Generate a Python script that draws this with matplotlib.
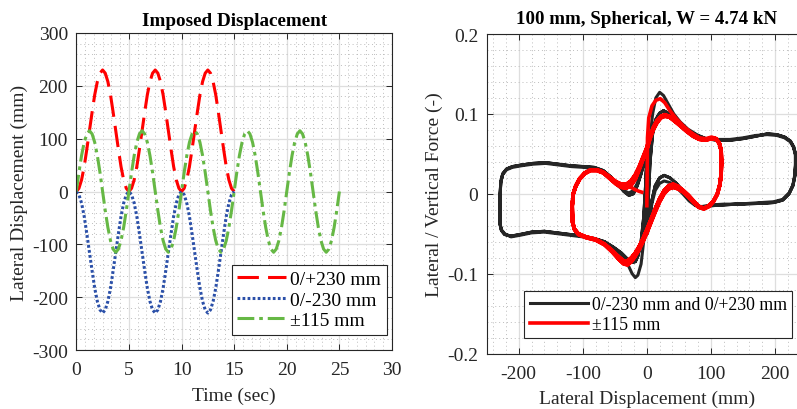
import numpy as np
import matplotlib
matplotlib.use("Agg")
import matplotlib.pyplot as plt
from matplotlib.ticker import MultipleLocator, FuncFormatter

plt.rcParams['font.family'] = ['Liberation Serif', 'DejaVu Serif']
plt.rcParams['axes.unicode_minus'] = False

# ---------------- left panel: imposed displacement histories (0.25 s samples)
dt = 0.25
disp_pos230 = [0, 6, 22, 47, 80, 115, 150, 183, 208, 224, 230, 224, 208, 183, 150, 115, 80, 47, 22, 6,
               0, 6, 22, 47, 80, 115, 150, 183, 208, 224, 230, 224, 208, 183, 150, 115, 80, 47, 22, 6,
               0, 6, 22, 47, 80, 115, 150, 183, 208, 224, 230, 224, 208, 183, 150, 115, 80, 47, 22, 6,
               0]
disp_neg230 = [0, -6, -22, -47, -80, -115, -150, -183, -208, -224, -230, -224, -208, -183, -150, -115, -80, -47, -22, -6,
               0, -6, -22, -47, -80, -115, -150, -183, -208, -224, -230, -224, -208, -183, -150, -115, -80, -47, -22, -6,
               0, -6, -22, -47, -80, -115, -150, -183, -208, -224, -230, -224, -208, -183, -150, -115, -80, -47, -22, -6,
               0]
disp_pm115 = [0, 36, 68, 93, 109, 115, 109, 93, 68, 36, 0, -36, -68, -93, -109, -115, -109, -93, -68, -36,
              0, 36, 68, 93, 109, 115, 109, 93, 68, 36, 0, -36, -68, -93, -109, -115, -109, -93, -68, -36,
              0, 36, 68, 93, 109, 115, 109, 93, 68, 36, 0, -36, -68, -93, -109, -115, -109, -93, -68, -36,
              0, 36, 68, 93, 109, 115, 109, 93, 68, 36, 0, -36, -68, -93, -109, -115, -109, -93, -68, -36,
              0, 36, 68, 93, 109, 115, 109, 93, 68, 36, 0, -36, -68, -93, -109, -115, -109, -93, -68, -36,
              0]

# ---------------- right panel: hysteresis loops (displacement mm, lateral/vertical force)
# 0/+230 test, outgoing branch (first cycle and later cycles)
bp_out_x = [0, 2, 5, 9, 14, 20, 26, 33, 42, 52, 64, 78, 92, 110, 130, 150, 170, 188, 203, 215, 224, 229, 232]
bp_out_y1 = [0.0, 0.03, 0.07, 0.10, 0.12, 0.127, 0.123, 0.113, 0.100, 0.090, 0.081, 0.074, 0.069, 0.068, 0.068,
             0.070, 0.073, 0.074, 0.073, 0.070, 0.065, 0.058, 0.048]
bp_out_y2 = [-0.045, -0.01, 0.04, 0.075, 0.093, 0.101, 0.104, 0.101, 0.094, 0.086, 0.079, 0.073, 0.069, 0.067,
             0.067, 0.069, 0.072, 0.075, 0.074, 0.071, 0.066, 0.059, 0.050]
bp_ret_x = [232, 231, 228, 222, 212, 198, 180, 160, 140, 120, 100, 86, 76, 66, 56, 46, 36, 27, 20, 13, 8, 4, 1]
bp_ret_y1 = [0.035, 0.022, 0.010, 0.0, -0.008, -0.011, -0.012, -0.0125, -0.013, -0.014, -0.015, -0.017, -0.014,
             -0.006, 0.004, 0.013, 0.020, 0.023, 0.020, 0.010, -0.008, -0.030, -0.048]
bp_ret_y2 = [0.037, 0.024, 0.011, 0.001, -0.007, -0.010, -0.011, -0.012, -0.013, -0.013, -0.014, -0.016, -0.015,
             -0.009, 0.000, 0.008, 0.014, 0.016, 0.013, 0.004, -0.012, -0.032, -0.050]

# 0/-230 test
bn_out_x = [0, -2, -5, -9, -14, -18, -23, -30, -40, -52, -66, -82, -100, -120, -140, -160, -180, -198, -212, -222,
            -227, -229, -229]
bn_out_y1 = [0.0, -0.03, -0.06, -0.088, -0.102, -0.105, -0.100, -0.088, -0.076, -0.068, -0.061, -0.057, -0.054,
             -0.052, -0.050, -0.048, -0.049, -0.052, -0.054, -0.050, -0.045, -0.038, -0.030]
bn_out_y2 = [0.05, 0.01, -0.03, -0.06, -0.078, -0.085, -0.086, -0.082, -0.074, -0.067, -0.060, -0.056, -0.053,
             -0.051, -0.049, -0.047, -0.048, -0.051, -0.053, -0.051, -0.046, -0.039, -0.031]
bn_ret_x = [-229, -229, -228, -225, -219, -210, -196, -178, -158, -138, -118, -98, -82, -68, -56, -45, -36, -28,
            -21, -15, -9, -4, -1]
bn_ret_y1 = [-0.02, 0.0, 0.015, 0.025, 0.031, 0.034, 0.036, 0.038, 0.039, 0.037, 0.035, 0.034, 0.033, 0.029,
             0.021, 0.012, 0.003, -0.002, 0.0, 0.010, 0.025, 0.040, 0.050]
bn_ret_y2 = [-0.021, -0.001, 0.014, 0.024, 0.030, 0.033, 0.035, 0.037, 0.038, 0.036, 0.034, 0.033, 0.031, 0.026,
             0.018, 0.010, 0.004, 0.001, 0.004, 0.013, 0.027, 0.042, 0.052]

# +/-115 test
r_first_x = [0, 0.5, 1, 3, 8, 14, 21, 28, 36, 46, 58, 70, 82, 92, 101, 108, 113, 116, 116.5]
r_first_y = [-0.015, 0.03, 0.07, 0.095, 0.11, 0.117, 0.119, 0.114, 0.104, 0.094, 0.084, 0.076, 0.070, 0.069,
             0.071, 0.069, 0.063, 0.054, 0.04]
r_up_x = [0, 5, 10, 16, 22, 28, 35, 43, 52, 62, 72, 82, 92, 101, 108, 113, 116, 116.5]
r_up_yA = [0.058, 0.072, 0.083, 0.092, 0.097, 0.099, 0.097, 0.092, 0.086, 0.080, 0.074, 0.069, 0.068, 0.070,
           0.069, 0.064, 0.055, 0.04]
r_up_yB = [0.055, 0.069, 0.080, 0.089, 0.095, 0.097, 0.096, 0.091, 0.085, 0.078, 0.072, 0.068, 0.067, 0.069,
           0.068, 0.063, 0.054, 0.039]
r_dn_x = [116.5, 116, 114, 110, 104, 97, 89, 81, 73, 65, 57, 49, 41, 34, 27, 20, 13, 6, 0, -6, -12, -18, -24,
          -30, -36, -44, -54, -66, -80, -95, -107, -113, -116]
r_dn_yA = [0.04, 0.025, 0.012, 0.0, -0.009, -0.015, -0.018, -0.016, -0.009, -0.002, 0.004, 0.009, 0.012, 0.010,
           0.004, -0.006, -0.019, -0.033, -0.045, -0.056, -0.066, -0.074, -0.080, -0.084, -0.084, -0.079, -0.071,
           -0.063, -0.057, -0.054, -0.050, -0.044, -0.035]
r_dn_yB = [0.039, 0.024, 0.011, -0.001, -0.010, -0.016, -0.019, -0.017, -0.011, -0.004, 0.002, 0.006, 0.008,
           0.006, 0.000, -0.010, -0.023, -0.037, -0.049, -0.060, -0.070, -0.078, -0.085, -0.089, -0.088, -0.082,
           -0.073, -0.064, -0.058, -0.055, -0.051, -0.045, -0.036]
r_back_x = [-116, -116.5, -115, -111, -105, -97, -88, -78, -68, -58, -48, -40, -32, -25, -18, -12, -6, 0]
r_back_yA = [-0.035, -0.015, 0.0, 0.010, 0.019, 0.026, 0.030, 0.030, 0.027, 0.021, 0.015, 0.012, 0.012, 0.016,
             0.024, 0.034, 0.046, 0.058]
r_back_yB = [-0.036, -0.016, -0.001, 0.009, 0.018, 0.025, 0.029, 0.029, 0.026, 0.019, 0.012, 0.008, 0.007,
             0.010, 0.018, 0.030, 0.043, 0.055]
r_end_x = [-116, -116.5, -115, -111, -105, -97, -88, -78, -68, -58, -48, -40, -32, -25, -18, -12, -8]
r_end_y = [-0.035, -0.015, 0.0, 0.010, 0.019, 0.026, 0.030, 0.030, 0.027, 0.021, 0.015, 0.012, 0.011, 0.008,
           0.005, 0.003, 0.002]

black = '#262626'
fs = 14
W, H = 797, 410
fig = plt.figure(figsize=(W / 100, H / 100), dpi=100)


def px_axes(x0, y0, x1, y1):
    return fig.add_axes([x0 / W, 1 - y1 / H, (x1 - x0) / W, (y1 - y0) / H])


def style(ax):
    ax.set_axisbelow(True)
    ax.grid(True, which='major', color='#dedede', lw=0.9)
    ax.grid(True, which='minor', color='#bdbdbd', ls=(0, (1, 3)), lw=0.7)
    ax.tick_params(which='major', direction='in', length=4, width=0.7, top=True, right=True,
                   labelsize=fs, colors=black)
    ax.tick_params(axis='x', which='major', pad=8)
    ax.tick_params(axis='y', which='major', pad=6)
    ax.tick_params(which='minor', length=0)
    for sp in ax.spines.values():
        sp.set_color(black)
        sp.set_linewidth(0.8)


fmt = FuncFormatter(lambda v, p: '%g' % round(v, 6))

# left
ax1 = px_axes(76.3, 34, 392, 351)
t = np.arange(len(disp_pm115)) * dt
t3 = np.arange(len(disp_pos230)) * dt
ax1.plot(t3, disp_pos230, color='#ff0000', lw=2.2, ls=(0, (7, 3)), label='0/+230 mm')
ax1.plot(t3, disp_neg230, color='#2a4fa8', lw=2.2, ls=(0, (0.9, 0.75)), label='0/-230 mm')
ax1.plot(t, disp_pm115, color='#66b845', lw=2.2, ls=(0, (5.5, 1.6, 1.2, 1.6)), label='\u00b1115 mm')
ax1.set_xlim(0, 30)
ax1.set_ylim(-300, 300)
ax1.xaxis.set_major_locator(MultipleLocator(5))
ax1.xaxis.set_minor_locator(MultipleLocator(5 / 6))
ax1.yaxis.set_major_locator(MultipleLocator(100))
ax1.yaxis.set_minor_locator(MultipleLocator(20))
ax1.xaxis.set_major_formatter(fmt)
ax1.yaxis.set_major_formatter(fmt)
style(ax1)
ax1.set_xlabel('Time (sec)', fontsize=fs, color=black, labelpad=6)
ax1.set_ylabel('Lateral Displacement (mm)', fontsize=fs, color=black, labelpad=3)
ax1.set_title('Imposed Displacement', fontsize=13.8, fontweight='bold', pad=6)
leg = ax1.legend(loc='lower right', bbox_to_anchor=(0.983, 0.047), borderaxespad=0, fontsize=14,
                 frameon=True, fancybox=False, framealpha=1, edgecolor=black, handlelength=2.5,
                 handletextpad=0.2, labelspacing=0.15, borderpad=0.3)
leg.get_frame().set_linewidth(0.8)

# right
ax2 = px_axes(486.7, 35, 807, 354.5)
bx = bp_out_x + bp_ret_x + bp_out_x + bp_ret_x + bp_out_x + bp_ret_x
by = bp_out_y1 + bp_ret_y1 + bp_out_y2 + bp_ret_y2 + bp_out_y2 + bp_ret_y1
nx = bn_out_x + bn_ret_x + bn_out_x + bn_ret_x + bn_out_x + bn_ret_x
ny = bn_out_y1 + bn_ret_y1 + bn_out_y2 + bn_ret_y2 + bn_out_y2 + bn_ret_y1
ax2.plot(bx, by, color=black, lw=2.2, solid_joinstyle='round',
         label='0/-230 mm and 0/+230 mm')
ax2.plot(nx, ny, color=black, lw=2.2, solid_joinstyle='round')
rx = (r_first_x + r_dn_x + r_back_x + r_up_x + r_dn_x[1:] + r_back_x + r_up_x + r_dn_x[1:] + r_back_x
      + r_up_x + r_dn_x[1:] + r_back_x + r_up_x + r_dn_x[1:] + r_end_x)
ry = (r_first_y + r_dn_yA + r_back_yA + r_up_yA + r_dn_yB[1:] + r_back_yB + r_up_yB + r_dn_yA[1:] + r_back_yA
      + r_up_yA + r_dn_yB[1:] + r_back_yB + r_up_yB + r_dn_yA[1:] + r_end_y)
ax2.plot(rx, ry, color='#ff0000', lw=2.6, solid_joinstyle='round', label='\u00b1115 mm')
ax2.set_xlim(-250, 250)
ax2.set_ylim(-0.2, 0.2)
ax2.xaxis.set_major_locator(MultipleLocator(100))
ax2.xaxis.set_minor_locator(MultipleLocator(20))
ax2.yaxis.set_major_locator(MultipleLocator(0.1))
ax2.yaxis.set_minor_locator(MultipleLocator(0.02))
ax2.xaxis.set_major_formatter(fmt)
ax2.yaxis.set_major_formatter(fmt)
style(ax2)
ax2.set_xlabel('Lateral Displacement (mm)', fontsize=fs, color=black, labelpad=6)
ax2.set_ylabel('Lateral / Vertical Force (-)', fontsize=fs, color=black, labelpad=3)
ax2.set_title('100 mm, Spherical, W = 4.74 kN', fontsize=13.6, fontweight='bold', pad=8)
leg2 = ax2.legend(loc='lower right', bbox_to_anchor=(0.954, 0.047), borderaxespad=0, fontsize=12.8,
                  frameon=True, fancybox=False, framealpha=1, edgecolor=black, handlelength=3.3,
                  handletextpad=0.2, labelspacing=0.15, borderpad=0.3)
leg2.get_frame().set_linewidth(0.8)

fig.savefig('out.png', dpi=100)
